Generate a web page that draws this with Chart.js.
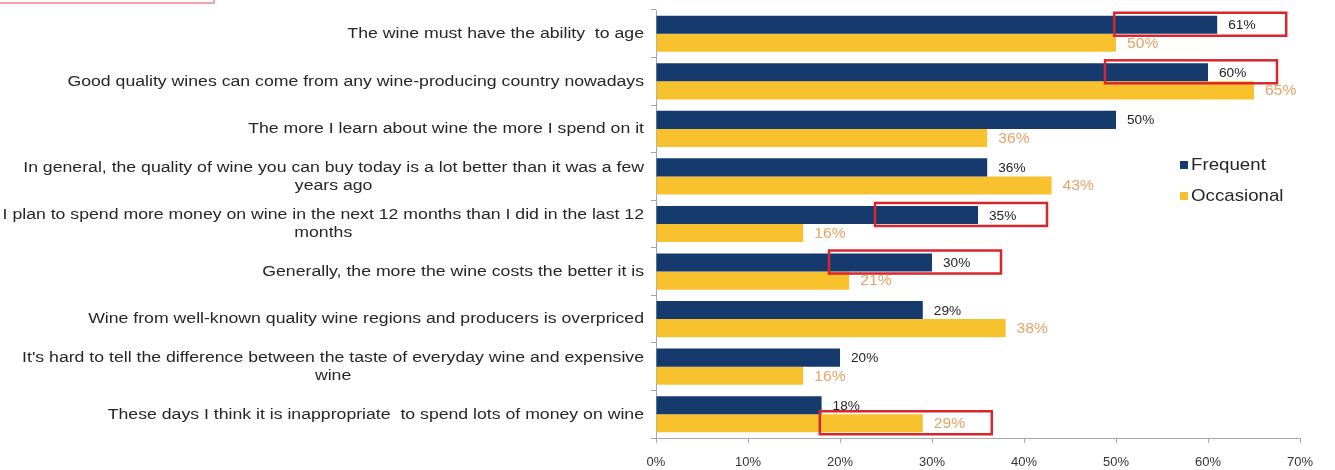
<!DOCTYPE html>
<html>
<head>
<meta charset="UTF-8">
<title>wine attitudes</title>
<script src="https://cdn.jsdelivr.net/npm/chart.js"></script>
<style>
body{margin:0; background:#fff;}
#wrap{position:relative; width:1335px; height:470px; overflow:hidden;}
#tag{position:absolute; left:-3px; top:-30px; width:214px; height:30px; border:2px solid #f3a3a3;}
</style>
</head>
<body>
<div id="wrap">
	<div id="tag"></div>
	<canvas id="myChart" width="1335" height="470"></canvas>
</div>
<script>
// statements, one entry per row (wrapped lines as arrays)
var statements = [
	['The wine must have the ability  to age'],
	['Good quality wines can come from any wine-producing country nowadays'],
	['The more I learn about wine the more I spend on it'],
	['In general, the quality of wine you can buy today is a lot better than it was a few', 'years ago'],
	['I plan to spend more money on wine in the next 12 months than I did in the last 12', 'months'],
	['Generally, the more the wine costs the better it is'],
	['Wine from well-known quality wine regions and producers is overpriced'],
	["It's hard to tell the difference between the taste of everyday wine and expensive", 'wine'],
	['These days I think it is inappropriate  to spend lots of money on wine']
];
var frequent = [61, 60, 50, 36, 35, 30, 29, 20, 18];
var occasional = [50, 65, 36, 43, 16, 21, 38, 16, 29];
var seriesNames = ['Frequent', 'Occasional'];
var xTickLabels = ['0%', '10%', '20%', '30%', '40%', '50%', '60%', '70%'];
// [dataset, row] of the values outlined in red
var boxed = [[0, 0], [0, 1], [0, 4], [0, 5], [1, 8]];

var NAVY = '#173a6e';
var GOLD = '#f8c22e';

function wideText(ctx, str, x, y, align, sx){
	ctx.save();
	ctx.translate(x, y);
	ctx.scale(sx, 1);
	ctx.textAlign = align;
	ctx.fillText(str, 0, 0);
	ctx.restore();
}

// category labels: each block right-aligned, lines centred inside it
var statementLabels = {
	id: 'statementLabels',
	afterDraw: function(chart){
		var ctx = chart.ctx;
		var yScale = chart.scales.y;
		var sx = 1.14;
		ctx.save();
		ctx.font = '15.5px "Liberation Sans", Arial, sans-serif';
		ctx.fillStyle = '#262626';
		ctx.textBaseline = 'middle';
		statements.forEach(function(lines, i){
			var w = 0;
			lines.forEach(function(l){ w = Math.max(w, ctx.measureText(l).width * sx); });
			var cx = yScale.right - 12 - w / 2;
			var cy = yScale.getPixelForValue(i);
			var lh = 18;
			var y0 = cy - (lines.length - 1) * lh / 2;
			lines.forEach(function(l, k){
				wideText(ctx, l, cx, y0 + k * lh, 'center', sx);
			});
		});
		ctx.restore();
	}
};

// value labels, red outlines and legend
var valueLabels = {
	id: 'valueLabels',
	afterDatasetsDraw: function(chart){
		var ctx = chart.ctx;
		ctx.save();
		ctx.textBaseline = 'middle';
		chart.data.datasets.forEach(function(ds, d){
			var meta = chart.getDatasetMeta(d);
			ctx.font = d === 0 ? '13px "Liberation Sans", Arial, sans-serif' : '14px "Liberation Sans", Arial, sans-serif';
			ctx.fillStyle = d === 0 ? '#222' : '#e6a468';
			meta.data.forEach(function(bar, i){
				wideText(ctx, ds.data[i] + '%', bar.x + 11, bar.y + 1, 'left', d === 0 ? 1.05 : 1.12);
			});
		});

		ctx.strokeStyle = '#d8262c';
		ctx.lineWidth = 2.5;
		boxed.forEach(function(b){
			var bar = chart.getDatasetMeta(b[0]).data[b[1]];
			ctx.strokeRect(bar.x - 103, bar.y - 12, 172, 23);
		});

		// legend
		ctx.font = '17px "Liberation Sans", Arial, sans-serif';
		chart.data.datasets.forEach(function(ds, d){
			var y = 165 + d * 31;
			ctx.fillStyle = ds.backgroundColor;
			ctx.fillRect(1180, y - 4, 8, 8);
			ctx.fillStyle = '#262626';
			wideText(ctx, ds.label, 1191, y, 'left', 1.1);
		});
		ctx.restore();
	}
};

const ctx = document.getElementById('myChart');
new Chart(ctx, {
	type: 'bar',
	data: {
		labels: statements,
		datasets: [{
			label: seriesNames[0],
			data: frequent,
			backgroundColor: NAVY,
			categoryPercentage: 0.76,
			barPercentage: 1.0
		}, {
			label: seriesNames[1],
			data: occasional,
			backgroundColor: GOLD,
			categoryPercentage: 0.76,
			barPercentage: 1.0
		}]
	},
	options: {
		indexAxis: 'y',
		responsive: false,
		animation: false,
		devicePixelRatio: 1,
		layout: { padding: { left: 0, right: 35, top: 10, bottom: 0 } },
		plugins: {
			legend: { display: false },
			tooltip: { enabled: false }
		},
		scales: {
			x: {
				min: 0,
				max: 70,
				ticks: {
					stepSize: 10,
					padding: 12,
					color: '#333',
					font: { size: 13, family: '"Liberation Sans", Arial, sans-serif' },
					callback: function(v, i){ return xTickLabels[i]; }
				},
				grid: { drawOnChartArea: false, drawTicks: true, tickLength: 5, color: '#a8a8a8' },
				border: { color: '#a8a8a8' },
				afterFit: function(scale){ scale.height = 32; }
			},
			y: {
				ticks: { display: false },
				grid: { drawOnChartArea: false, drawTicks: true, tickLength: 5, color: '#9aa8bc', offset: true },
				border: { color: '#9aa8bc' },
				afterFit: function(scale){ scale.width = 656; }
			}
		}
	},
	plugins: [statementLabels, valueLabels]
});
</script>
</body>
</html>
